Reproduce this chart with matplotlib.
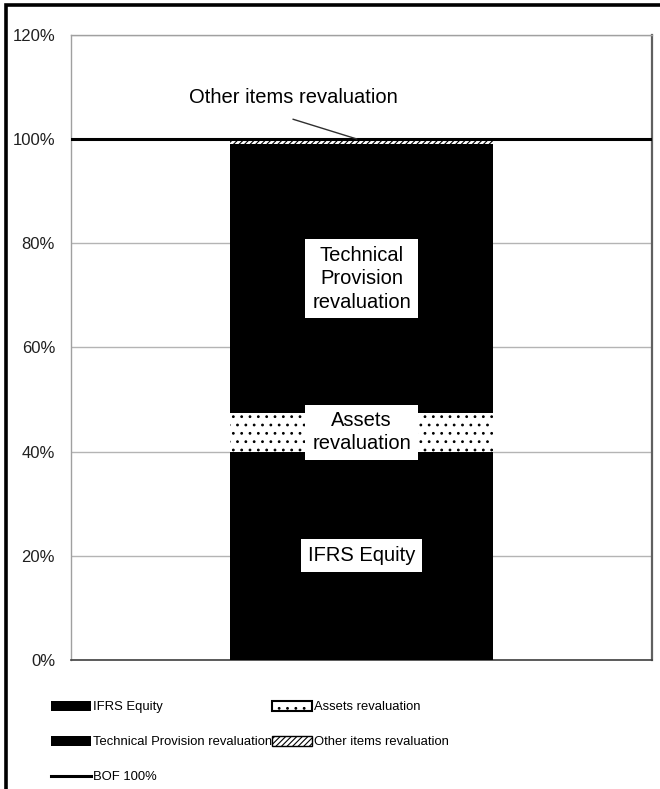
import matplotlib
matplotlib.use("Agg")
import matplotlib.pyplot as plt
from matplotlib.patches import Rectangle, Patch
from matplotlib.lines import Line2D

plt.rcParams['font.family'] = ['Liberation Sans', 'DejaVu Sans']
plt.rcParams['hatch.linewidth'] = 0.8

categories = ["BOF"]
series_names = ["IFRS Equity", "Assets revaluation",
                "Technical Provision revaluation", "Other items revaluation"]
ifrs_equity = [40.0]
assets_reval = [7.4]
tp_reval = [51.6]
other_reval = [1.0]
bof_level = [100.0]
yticks = [0, 20, 40, 60, 80, 100, 120]
ytick_labels = ["0%", "20%", "40%", "60%", "80%", "100%", "120%"]

fig = plt.figure(figsize=(6.6, 7.89), dpi=100)
ax = fig.add_axes([71/660, 1-660/789, (652-71)/660, (660-34.8)/789])

x = [0]
w = 0.454
ax.bar(x, ifrs_equity, width=w, color='black', linewidth=0, zorder=3)
bottom2 = ifrs_equity[0]
ax.bar(x, assets_reval, width=w, bottom=bottom2, facecolor='white',
       edgecolor='black', hatch='..', linewidth=0, zorder=3)
bottom3 = bottom2 + assets_reval[0]
ax.bar(x, tp_reval, width=w, bottom=bottom3, color='black', linewidth=0, zorder=3)
bottom4 = bottom3 + tp_reval[0]
ax.bar(x, other_reval, width=w, bottom=bottom4, facecolor='white',
       edgecolor='black', hatch='//////', linewidth=0, zorder=3)

ax.axhline(bof_level[0], color='black', linewidth=2.2, zorder=4)

ax.set_xlim(-0.5, 0.5)
ax.set_ylim(0, 120)
ax.set_yticks(yticks)
ax.set_yticklabels(ytick_labels, fontsize=12, color='#202020')
ax.set_xticks([])
ax.tick_params(axis='y', length=0, pad=11.5)
ax.yaxis.grid(True, color='#b4b4b4', linewidth=1.0, zorder=0)
ax.set_axisbelow(True)
for side in ['left', 'top']:
    ax.spines[side].set_color('#a0a0a0')
    ax.spines[side].set_linewidth(1.0)
ax.spines['right'].set_color('#606060')
ax.spines['right'].set_linewidth(1.6)
ax.spines['bottom'].set_color('#404040')
ax.spines['bottom'].set_linewidth(1.2)

fs = 14.5
box = dict(facecolor='white', edgecolor='none', pad=5)
ax.text(0, ifrs_equity[0]/2, "IFRS Equity", ha='center', va='center',
        fontsize=fs, bbox=box, zorder=5)
ax.text(0, bottom2 + assets_reval[0]/2, "Assets\nrevaluation", ha='center', va='center',
        fontsize=fs, bbox=box, zorder=5, linespacing=1.25)
ax.text(0, bottom3 + tp_reval[0]/2, "Technical\nProvision\nrevaluation", ha='center',
        va='center', fontsize=fs, bbox=box, zorder=5, linespacing=1.3)
ax.text(-0.118, 108.0, "Other items revaluation", ha='center', va='center',
        fontsize=fs, zorder=6)
ax.annotate("", xy=(-0.008, bottom4 + other_reval[0]), xytext=(-0.118, 103.8),
            arrowprops=dict(arrowstyle='-', color='#303030', linewidth=1.0,
                            shrinkA=0, shrinkB=0), zorder=6)

handles = [
    Patch(facecolor='black', edgecolor='black', linewidth=0),
    Patch(facecolor='black', edgecolor='black', linewidth=0),
    Line2D([0], [0], color='black', linewidth=2.2),
    Patch(facecolor='white', edgecolor='black', hatch='..', linewidth=1.5),
    Patch(facecolor='white', edgecolor='black', hatch='//////', linewidth=1.0),
]
labels = [series_names[0], series_names[2], "BOF 100%", series_names[1], series_names[3]]
lfs = 9.4
px = lfs * 100 / 72
fig.legend(handles, labels, loc='upper left', bbox_to_anchor=(51/660, 1-701/789),
           ncol=2, frameon=False, fontsize=lfs, handlelength=40/px,
           handleheight=0.75, handletextpad=0.12, columnspacing=0.05,
           labelspacing=1.74, borderaxespad=0, borderpad=0)

fig.patches.append(Rectangle((5.5/660, -0.1), 2.0, 1.1 - 5.5/789, transform=fig.transFigure,
                             fill=False, edgecolor='black', linewidth=2.6, clip_on=False))

fig.savefig("out.png", dpi=100)
